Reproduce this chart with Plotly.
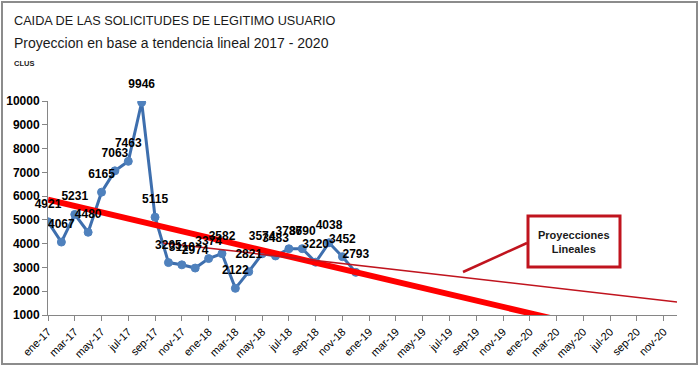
import numpy as np
import plotly.graph_objects as go

# ---------------- data ----------------
tick_labels = ["ene-17", "mar-17", "may-17", "jul-17", "sep-17", "nov-17",
               "ene-18", "mar-18", "may-18", "jul-18", "sep-18", "nov-18",
               "ene-19", "mar-19", "may-19", "jul-19", "sep-19", "nov-19",
               "ene-20", "mar-20", "may-20", "jul-20", "sep-20", "nov-20"]
solicitudes = [4921, 4067, 5231, 4480, 6165, 7063, 7463, 9946, 5115, 3205, 3110, 2974,
               3374, 3582, 2122, 2821, 3574, 3483, 3786, 3790, 3220, 4038, 3452, 2793]
horizon_months = 48          # ene-17 .. dic-20
thin_proj_month = [8.6, 47]  # secondary projection
thin_proj_value = [4030, 1550]

month_idx = np.arange(len(solicitudes))
tick_idx = np.arange(0, horizon_months, 2)

# linear trend over all observed data, projected to dic-20
coef = np.polyfit(month_idx, solicitudes, 1)
proj_x = np.arange(0, horizon_months)
proj_y = np.polyval(coef, proj_x)

# ---------------- layout helpers (pixel -> paper) ----------------
W, H = 700, 367
L, R, T, B = 48, 23, 101, 52
PW, PH = W - L - R, H - T - B


def px(x):
    return (x - L) / PW


def py(y):
    return (H - B - y) / PH


FONT = "Liberation Sans, Arial, sans-serif"
BLUE_LINE = "#3E6FAE"
BLUE_MK = "#4F81BD"
RED = "#FF0000"
DARKRED = "#C0141E"
AXIS = "#868686"

fig = go.Figure()

fig.add_trace(go.Scatter(
    x=month_idx, y=solicitudes, mode="lines+markers",
    line=dict(color=BLUE_LINE, width=3),
    marker=dict(color=BLUE_MK, size=8, line=dict(color=BLUE_MK, width=1)),
    hoverinfo="x+y", showlegend=False,
))

fig.add_trace(go.Scatter(
    x=proj_x, y=proj_y, mode="lines",
    line=dict(color=RED, width=6), showlegend=False, hoverinfo="skip",
))

fig.add_trace(go.Scatter(
    x=thin_proj_month, y=thin_proj_value, mode="lines",
    line=dict(color=DARKRED, width=1.5), showlegend=False, hoverinfo="skip",
))

fig.add_trace(go.Scatter(
    x=month_idx, y=solicitudes, mode="markers+text",
    marker=dict(size=16, color="rgba(0,0,0,0)"),
    text=["<b>%d</b>" % v for v in solicitudes], textposition="top center",
    textfont=dict(family=FONT, size=12, color="#000000"),
    showlegend=False, hoverinfo="skip", cliponaxis=False,
))

shapes = [
    # outer chart border
    dict(type="rect", xref="paper", yref="paper",
         x0=px(2), x1=px(697), y0=py(364), y1=py(2),
         line=dict(color="#8C8C8C", width=2), fillcolor="rgba(0,0,0,0)", layer="below"),
    # callout box
    dict(type="rect", xref="paper", yref="paper",
         x0=px(528), x1=px(620), y0=py(267), y1=py(216),
         line=dict(color=DARKRED, width=3), fillcolor="white"),
    # callout pointer
    dict(type="line", xref="paper", yref="paper",
         x0=px(463), y0=py(272), x1=px(527), y1=py(243),
         line=dict(color=DARKRED, width=2.5)),
]

annotations = [
    dict(text="CAIDA DE LAS SOLICITUDES DE LEGITIMO USUARIO", xref="paper", yref="paper",
         x=px(12), y=py(21), xanchor="left", yanchor="middle", showarrow=False,
         font=dict(family=FONT, size=12.7, color="#1A1A1A")),
    dict(text="Proyeccion en base a tendencia lineal 2017 - 2020", xref="paper", yref="paper",
         x=px(12), y=py(43), xanchor="left", yanchor="middle", showarrow=False,
         font=dict(family=FONT, size=14, color="#1A1A1A")),
    dict(text="<b>CLUS</b>", xref="paper", yref="paper",
         x=px(12), y=py(63), xanchor="left", yanchor="middle", showarrow=False,
         font=dict(family=FONT, size=7.5, color="#1A1A1A")),
    dict(text="<b>Proyecciones<br>Lineales</b>", xref="paper", yref="paper",
         x=px(574), y=py(242), xanchor="center", yanchor="middle", showarrow=False,
         font=dict(family=FONT, size=11, color="#1A1A1A")),
]

fig.update_layout(
    width=W, height=H,
    margin=dict(l=L, r=R, t=T, b=B),
    paper_bgcolor="white", plot_bgcolor="white",
    shapes=shapes, annotations=annotations,
    xaxis=dict(range=[0, horizon_months - 1], tickmode="array",
               tickvals=tick_idx, ticktext=tick_labels, tickangle=-45,
               ticks="outside", ticklen=5, tickcolor=AXIS,
               showline=True, linecolor=AXIS, linewidth=1,
               showgrid=False, zeroline=False, automargin=False,
               tickfont=dict(family=FONT, size=11, color="#000000")),
    yaxis=dict(range=[1000, 10000], tickmode="array",
               tickvals=list(range(1000, 10001, 1000)),
               ticktext=["<b>%d</b>" % v for v in range(1000, 10001, 1000)],
               ticks="outside", ticklen=5, tickcolor=AXIS,
               showline=True, linecolor=AXIS, linewidth=1,
               showgrid=False, zeroline=False, automargin=False,
               tickfont=dict(family=FONT, size=12, color="#000000")),
)

fig.write_html("out.html", config={"displayModeBar": False},
               post_script="document.body.style.margin='0';document.body.style.overflow='hidden';")
